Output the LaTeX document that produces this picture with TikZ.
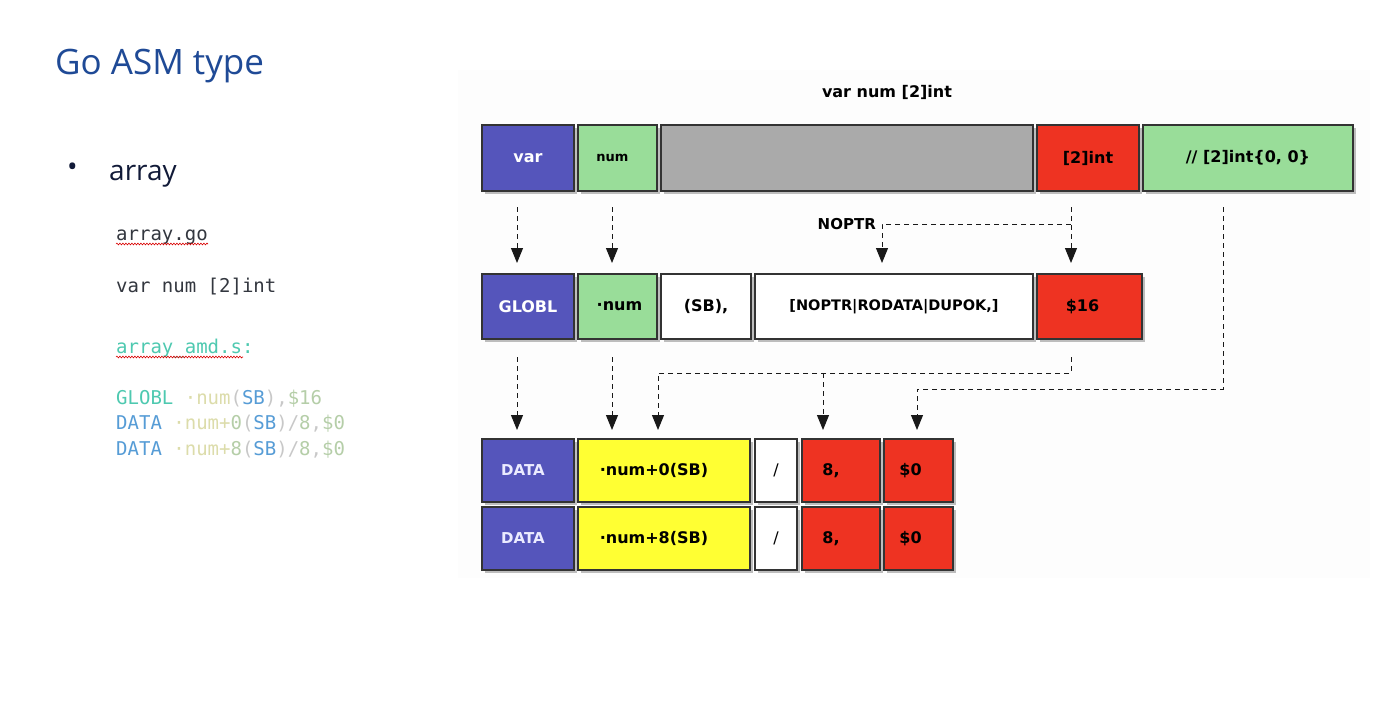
\documentclass[tikz,border=0pt]{standalone}
\usepackage{fontspec}
\setmainfont{Open Sans}
\newfontfamily\diagfont{DejaVu Sans}
\newfontfamily\codefont{DejaVu Sans Mono}
\usetikzlibrary{arrows.meta,shadows,decorations.pathmorphing,calc}
\definecolor{titleblue}{HTML}{1F4A96}
\definecolor{navy}{HTML}{111A38}
\definecolor{cgray}{HTML}{33373F}
\definecolor{cteal}{HTML}{4EC9B0}
\definecolor{cyel}{HTML}{DCDCAA}
\definecolor{cparen}{HTML}{C8C8C8}
\definecolor{cblue}{HTML}{569CD6}
\definecolor{cgreen}{HTML}{B5CEA8}
\definecolor{fblue}{HTML}{5555BB}
\definecolor{fgreen}{HTML}{99DD99}
\definecolor{fgray}{HTML}{AAAAAA}
\definecolor{fred}{HTML}{EE3322}
\definecolor{fyel}{HTML}{FFFF33}
\definecolor{boxline}{HTML}{333333}
\definecolor{bgpanel}{HTML}{FDFDFD}
\tikzset{
  box/.style={draw=boxline, line width=1.2pt, inner sep=0pt, outer sep=0pt,
    anchor=north west, font=\diagfont\bfseries\fontsize{16}{19}\selectfont,
    drop shadow={shadow xshift=2.5pt, shadow yshift=-3pt, fill=black, opacity=0.25}},
  conn/.style={draw=black!90, line width=1pt, dash pattern=on 5pt off 4pt,
    -{Triangle[width=12pt,length=15pt]}},
  lbl/.style={font=\diagfont\bfseries\fontsize{16}{19}\selectfont, inner sep=0pt},
  code/.style={font=\codefont\fontsize{19}{22}\selectfont, inner sep=0pt, anchor=base west},
  squig/.style={draw=red!85!black, line width=0.6pt, decorate,
    decoration={snake, amplitude=0.9pt, segment length=3pt}}
}
\begin{document}
\begin{tikzpicture}[x=1pt,y=-1pt]
\useasboundingbox (0,0) rectangle (1385,728);
\fill[white] (0,0) rectangle (1385,728);
\fill[bgpanel] (458,70) rectangle (1370,578);

% slide text
\node[anchor=base west, inner sep=0pt, text=titleblue, font=\fontsize{35}{40}\selectfont] (title) at (55,74) {Go ASM type};
\node[inner sep=0pt, text=navy, font=\fontsize{28}{32}\selectfont] (bullet) at (72.5,170) {•};
\node[anchor=base west, inner sep=0pt, text=navy, font=\fontsize{28}{32}\selectfont] (arr) at (109,180) {array};

\node[code, text=cgray] (f1) at (116,240) {array.go};
\draw[squig] (116,244) -- (208,244);
\node[code, text=cgray] (l1) at (116,292) {var num [2]int};
\node[code, text=cteal] (f2) at (116,353) {array\_amd.s:};
\draw[squig] (116,357) -- (243,357);
\node[code] (l2) at (116,404) {\textcolor{cteal}{GLOBL} \textcolor{cyel}{·num}\textcolor{cparen}{(}\textcolor{cblue}{SB}\textcolor{cparen}{),}\textcolor{cgreen}{\$16}};
\node[code] (l3) at (116,429) {\textcolor{cblue}{DATA} \textcolor{cyel}{·num+}\textcolor{cgreen}{0}\textcolor{cparen}{(}\textcolor{cblue}{SB}\textcolor{cparen}{)/}\textcolor{cgreen}{8}\textcolor{cparen}{,}\textcolor{cgreen}{\$0}};
\node[code] (l4) at (116,455) {\textcolor{cblue}{DATA} \textcolor{cyel}{·num+}\textcolor{cgreen}{8}\textcolor{cparen}{(}\textcolor{cblue}{SB}\textcolor{cparen}{)/}\textcolor{cgreen}{8}\textcolor{cparen}{,}\textcolor{cgreen}{\$0}};

% diagram title
\node[lbl] (dtitle) at (887,92) {var num [2]int};

% row 1
\node[box, fill=fblue, text=white, minimum width=92pt, minimum height=66pt] (var) at (482,125) {var};
\node[box, fill=fgreen, minimum width=79pt, minimum height=66pt, font=\diagfont\bfseries\fontsize{13}{16}\selectfont] (num) at (578,125) {num\hspace*{10pt}};
\node[box, fill=fgray, minimum width=372pt, minimum height=66pt] (gap) at (661,125) {};
\node[box, fill=fred, minimum width=102pt, minimum height=66pt] (int2) at (1037,125) {[2]int};
\node[box, fill=fgreen, minimum width=210pt, minimum height=66pt] (init) at (1143,125) {// [2]int\{0, 0\}};

% row 2
\node[box, fill=fblue, text=white, minimum width=92pt, minimum height=65pt] (globl) at (482,274) {GLOBL};
\node[box, fill=fgreen, minimum width=79pt, minimum height=65pt] (dnum) at (578,274) {\hspace*{4pt}·num};
\node[box, fill=white, minimum width=90pt, minimum height=65pt] (sb) at (661,274) {(SB),};
\node[box, fill=white, minimum width=278pt, minimum height=65pt, font=\diagfont\bfseries\fontsize{14.5}{18}\selectfont] (flags) at (755,274) {[NOPTR|RODATA|DUPOK,]};
\node[box, fill=fred, minimum width=105pt, minimum height=65pt] (s16) at (1037,274) {\$16\hspace*{14pt}};

% rows 3 and 4
\node[box, fill=fblue, text=white!92!blue, minimum width=92pt, minimum height=63pt, font=\diagfont\bfseries\fontsize{15}{18}\selectfont] (data1) at (482,439) {DATA\hspace*{10pt}};
\node[box, fill=fyel, minimum width=172pt, minimum height=63pt] (off0) at (578,439) {·num+0(SB)\hspace*{20pt}};
\node[box, fill=white, minimum width=42pt, minimum height=63pt, font=\diagfont\fontsize{16}{19}\selectfont] (sl1) at (755,439) {/};
\node[box, fill=fred, minimum width=78pt, minimum height=63pt] (e1) at (802,439) {8,\hspace*{20pt}};
\node[box, fill=fred, minimum width=69pt, minimum height=63pt] (z1) at (884,439) {\$0\hspace*{16pt}};

\node[box, fill=fblue, text=white!92!blue, minimum width=92pt, minimum height=63pt, font=\diagfont\bfseries\fontsize{15}{18}\selectfont] (data2) at (482,507) {DATA\hspace*{10pt}};
\node[box, fill=fyel, minimum width=172pt, minimum height=63pt] (off8) at (578,507) {·num+8(SB)\hspace*{20pt}};
\node[box, fill=white, minimum width=42pt, minimum height=63pt, font=\diagfont\fontsize{16}{19}\selectfont] (sl2) at (755,507) {/};
\node[box, fill=fred, minimum width=78pt, minimum height=63pt] (e2) at (802,507) {8,\hspace*{20pt}};
\node[box, fill=fred, minimum width=69pt, minimum height=63pt] (z2) at (884,507) {\$0\hspace*{16pt}};

% connectors row1 -> row2
\draw[conn] ([shift={(35,16)}]var.south west) -- ([shift={(35,-11)}]globl.north west);
\draw[conn] ([shift={(34,16)}]num.south west) -- ([shift={(34,-11)}]dnum.north west);
\draw[conn] ([shift={(34,16)}]int2.south west) -- ([shift={(34,-11)}]s16.north west);
\node[lbl, anchor=east, font=\diagfont\bfseries\fontsize{15}{18}\selectfont] (noptr) at (876,224) {NOPTR};
\coordinate (j1) at (1071,224);
\draw[conn] (j1) -| ([shift={(127,-11)}]flags.north west);

% connectors row2 -> row3
\draw[conn] ([shift={(35,18)}]globl.south west) -- ([shift={(35,-9)}]data1.north west);
\draw[conn] ([shift={(34,18)}]dnum.south west) -- ([shift={(34,-9)}]off0.north west);
\draw[conn] ([shift={(34,18)}]s16.south west) |- ([shift={(80,-66)}]off0.north west) -- ([shift={(80,-9)}]off0.north west);
\coordinate (j2) at (823,373);
\draw[conn] (j2) -- ([shift={(21,-9)}]e1.north west);
\draw[conn] ([shift={(80,16)}]init.south west) |- ([shift={(33,-50)}]z1.north west) -- ([shift={(33,-9)}]z1.north west);
\end{tikzpicture}
\end{document}
